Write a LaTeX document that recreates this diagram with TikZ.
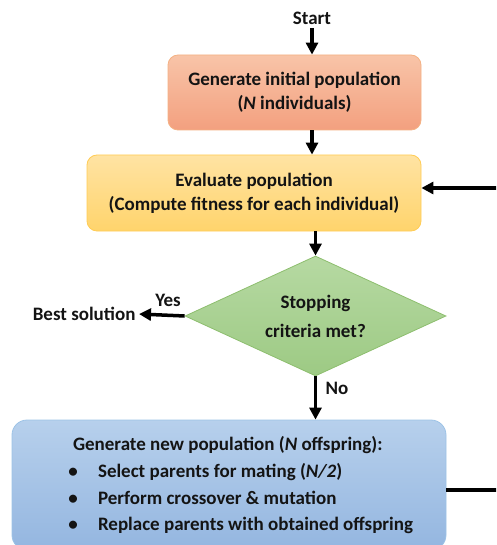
\documentclass[tikz,border=0pt]{standalone}
\usepackage{fontspec}
\setmainfont{Carlito}
\usetikzlibrary{shapes.geometric,arrows.meta,calc}
\definecolor{otop}{HTML}{F8C4A8}
\definecolor{obot}{HTML}{F3A07F}
\definecolor{oedge}{HTML}{F4B183}
\definecolor{ytop}{HTML}{FFE3A3}
\definecolor{ybot}{HTML}{FFD46C}
\definecolor{yedge}{HTML}{FFCC55}
\definecolor{gtop}{HTML}{B6D9A2}
\definecolor{gbot}{HTML}{9DCA84}
\definecolor{gedge}{HTML}{8DBE6E}
\definecolor{btop}{HTML}{B7D0EC}
\definecolor{bbot}{HTML}{94B6E0}
\definecolor{bedge}{HTML}{9DC3E6}
\definecolor{ink}{HTML}{141414}
\begin{document}
\begin{tikzpicture}[x=1pt,y=-1pt,
  txt/.style={font=\fontsize{19}{24}\selectfont\bfseries, text=ink},
  box/.style={draw, rounded corners=10pt, line width=0.8pt, inner sep=0pt, txt, align=center},
  arr/.style={draw=black, line width=3.5pt, -{Triangle[length=12pt,width=12pt]}}]
\useasboundingbox (0,0) rectangle (496,545);
\clip (0,0) rectangle (496,545);
\node[txt] (start) at (312,18) {Start};
\node[box, draw=oedge, top color=otop, bottom color=obot,
      minimum width=253pt, minimum height=75pt] (gen) at (294.5,92.5)
      {Generate initial population\\(\textit{N} individuals)};
\node[box, draw=yedge, top color=ytop, bottom color=ybot,
      minimum width=334pt, minimum height=76pt] (eval) at (254,193)
      {Evaluate population\\(Compute fitness for each individual)};
\node[diamond, draw=gedge, line width=0.8pt, top color=gtop, bottom color=gbot,
      minimum width=261pt, minimum height=120pt, inner sep=0pt, aspect=2.2,
      txt, align=center] (dia) at (315.5,316) {Stopping\\[5pt]criteria met?};
\node[txt, anchor=east] (best) at (139,314) {Best solution};
\node[txt] (yes) at (168,300) {Yes};
\node[txt] (no) at (337,388) {No};
\node[box, draw=bedge, top color=btop, bottom color=bbot, rounded corners=15pt,
      minimum width=434pt, minimum height=130pt] (gennew) at (229,485) {};
\node[txt, font=\fontsize{19}{26.7}\selectfont\bfseries, align=left, anchor=north west]
      (newtxt) at (69.5,433)
      {Generate new population (\textit{N} offspring):\\
       \makebox[25pt][l]{\makebox[0pt]{\textbullet}}Select parents for mating (\textit{N/2})\\
       \makebox[25pt][l]{\makebox[0pt]{\textbullet}}Perform crossover \& mutation\\
       \makebox[25pt][l]{\makebox[0pt]{\textbullet}}Replace parents with obtained offspring};
\coordinate (la) at (520,490);
\coordinate (lb) at (520,188);
\draw[arr] (start.south) -- (start |- gen.north);
\draw[arr] (gen.south -| start) -- (eval.north -| start);
\draw[arr] (eval.south -| dia) -- (dia.north);
\draw[arr] (dia.west) -- (best.east);
\draw[arr] (dia.south) -- (gennew.north -| dia);
\draw[arr] (gennew.east |- la) -- (la) -- (lb) -- (eval.east |- lb);
\end{tikzpicture}
\end{document}
